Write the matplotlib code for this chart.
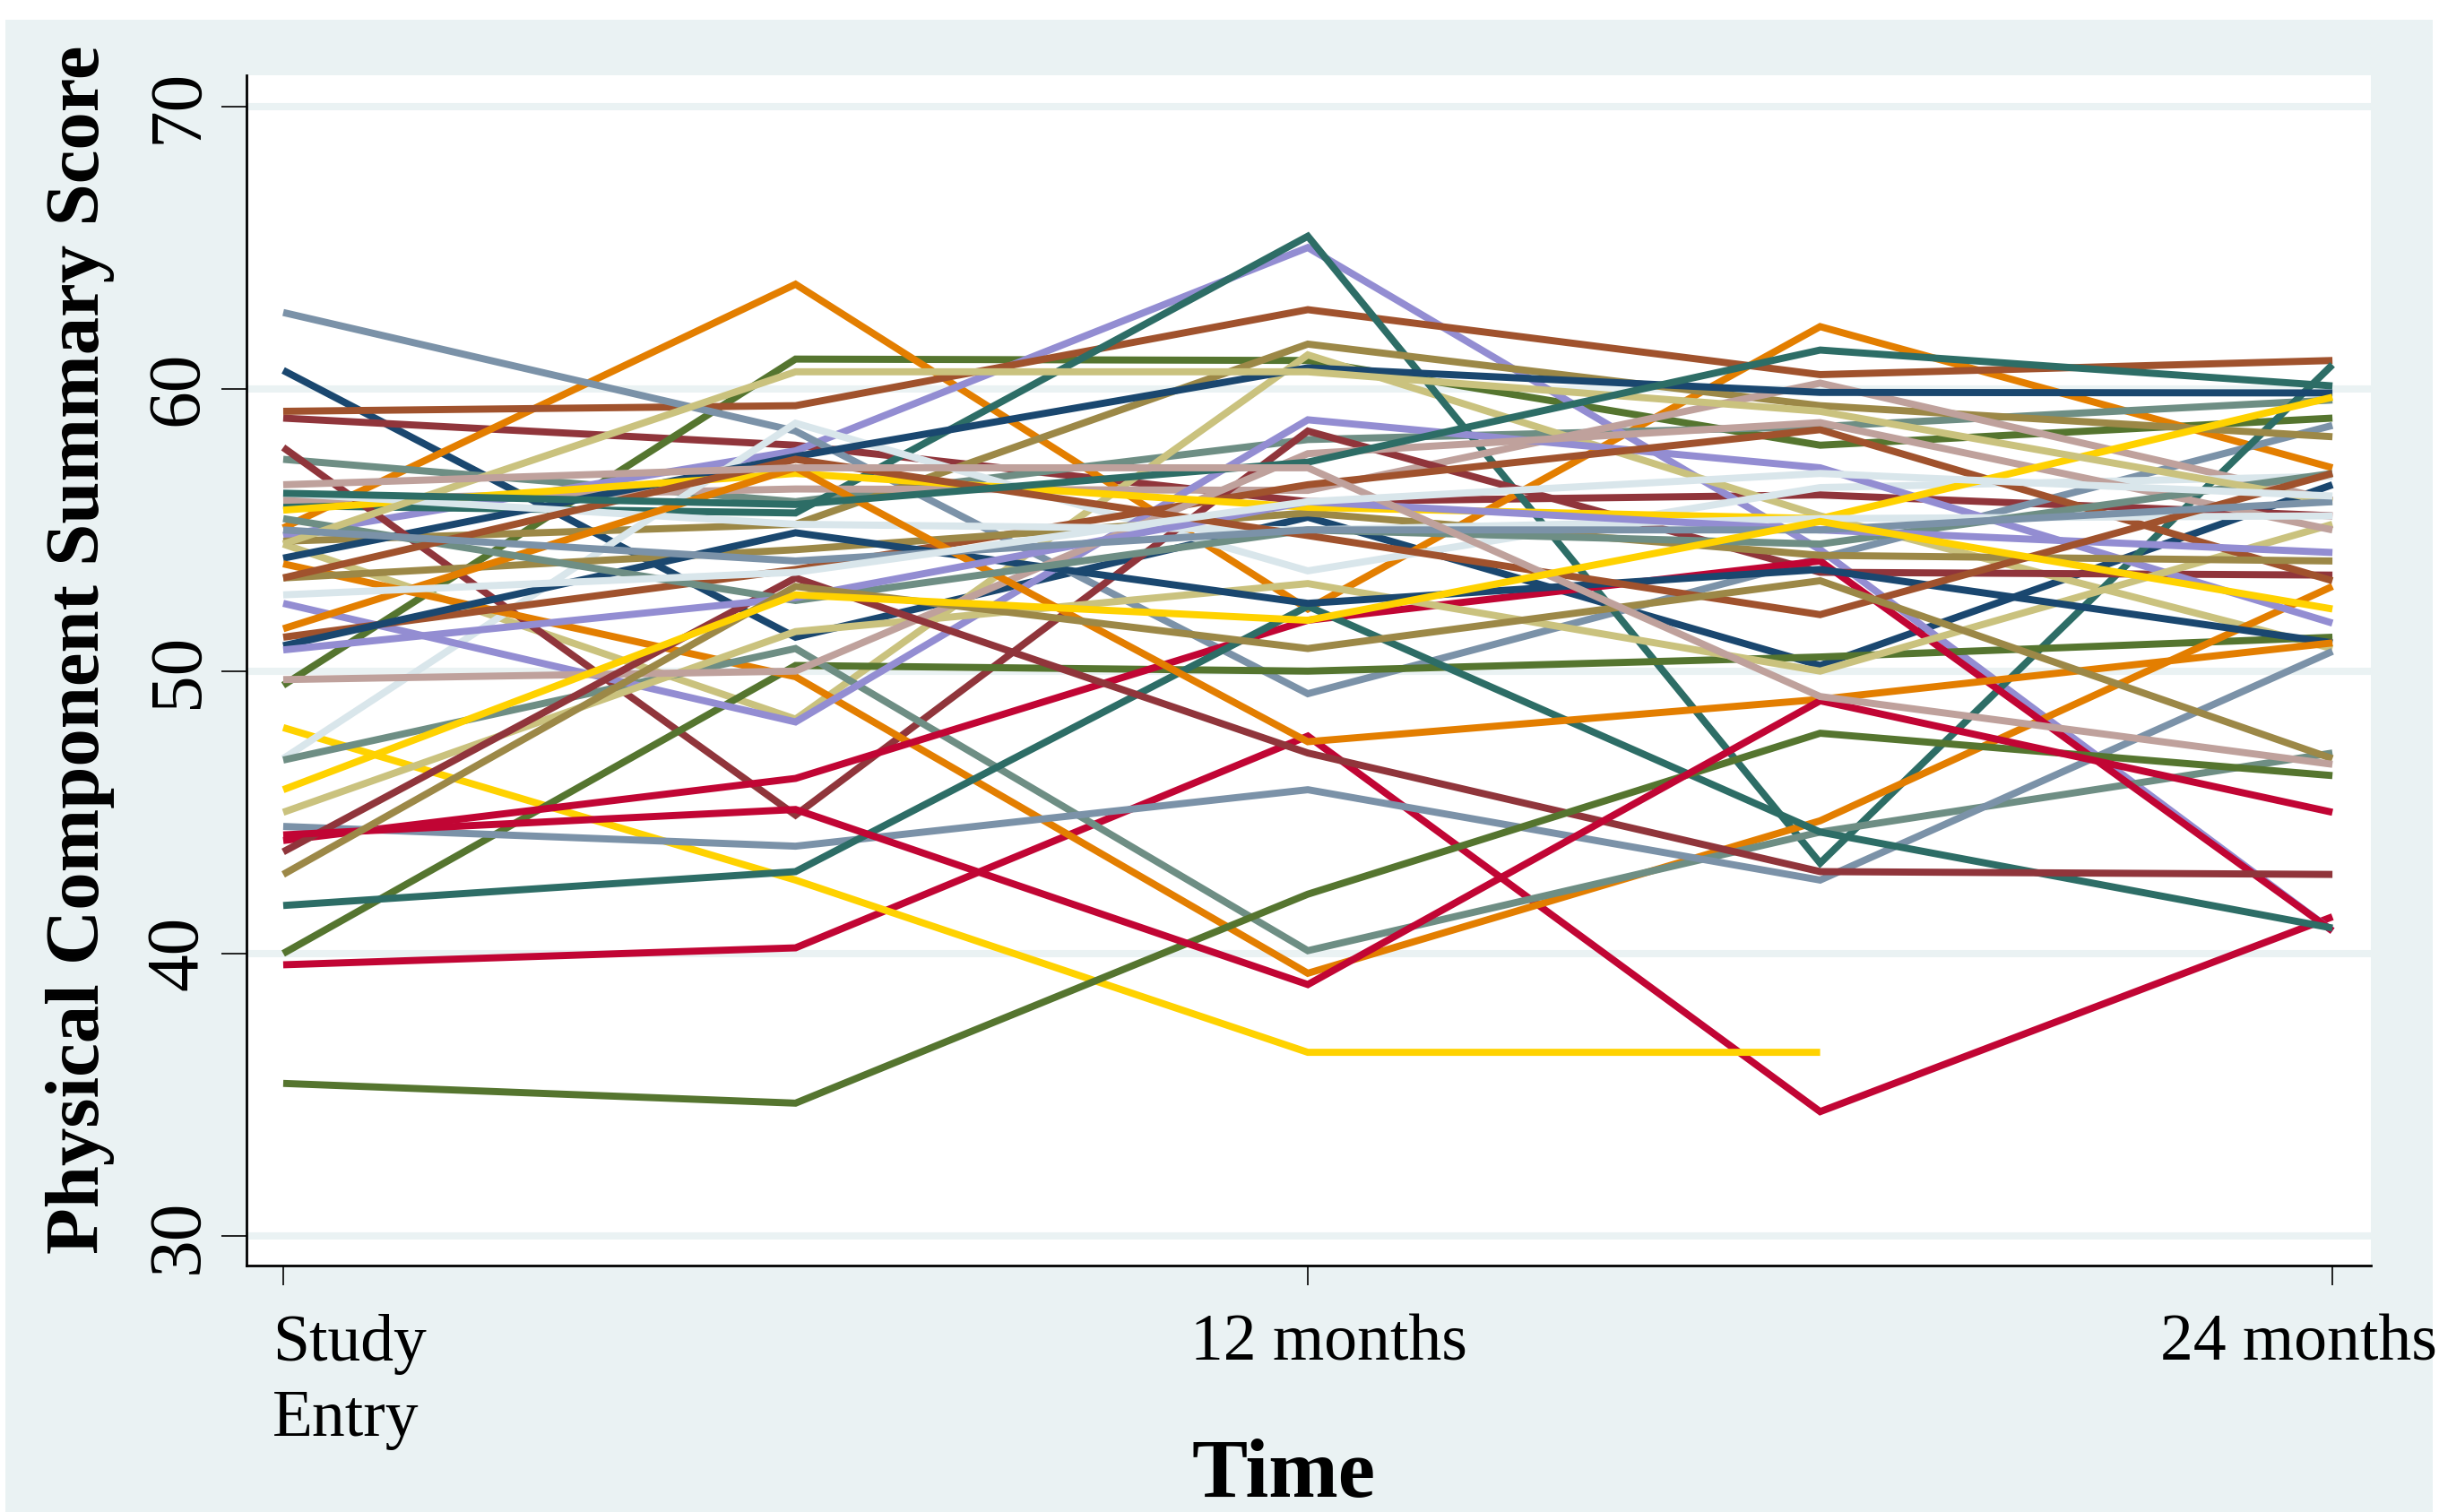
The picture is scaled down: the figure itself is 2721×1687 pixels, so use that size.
import numpy as np
import matplotlib
matplotlib.use("Agg")
import matplotlib.pyplot as plt
from matplotlib.patches import Rectangle
from matplotlib.transforms import ScaledTranslation

plt.rcParams['font.family'] = ['Liberation Serif', 'DejaVu Serif']

# Time points (months since study entry)
months = [0, 6, 12, 18, 24]
tick_months = [0, 12, 24]
tick_labels = ["Study\nEntry", "12 months", "24 months"]
y_ticks = [30, 40, 50, 60, 70]

# Stata s2color line cycle
palette = ["#1a476f", "#90353b", "#55752f", "#e37e00", "#6e8e84",
           "#c10534", "#938dd2", "#cac27e", "#a0522d", "#7b92a8",
           "#2d6d66", "#9c8847", "#bfa19c", "#ffd200", "#d9e6eb"]

nan = np.nan

# PCS per subject, subjects 1-15
pcs_first = [
    [60.65, 51.2, 55.45, 50.2, 56.6],
    [58.96, 58.0, 56.0, 56.24, 55.5],
    [49.5, 61.05, 61.0, 58.0, 58.96],
    [55.07, 63.7, 52.2, 62.2, 57.2],
    [57.5, 56.0, 58.2, 58.66, 59.6],
    [39.6, 40.2, 47.7, 34.4, 41.3],
    [54.8, 57.8, 65.0, 54.3, 40.8],
    [54.5, 48.3, 61.2, 55.5, 50.8],
    [59.2, 59.4, 62.8, 60.5, 61.0],
    [62.7, 58.5, 49.2, 54.0, 58.7],
    [55.86, 55.6, 65.4, 43.2, 60.85],
    [54.6, 55.2, 61.58, 59.4, 58.3],
    [56.05, 56.45, 56.4, 60.2, 56.05],
    [48.0, 42.6, 36.5, 36.5, nan],
    [46.9, 58.78, 53.55, 56.5, 56.9],
]

# subjects 16-30
pcs_second = [
    [54.0, 57.6, 60.74, 59.87, 59.85],
    [57.92, 44.9, 58.5, 53.5, 53.4],
    [40.0, 50.2, 50.0, 50.5, 51.2],
    [53.8, 49.8, 39.3, 44.7, 53.0],
    [46.85, 50.8, 40.1, 44.3, 47.1],
    [44.0, 46.2, 51.8, 53.9, 40.8],
    [52.4, 48.2, 58.9, 57.2, 51.7],
    [45.0, 51.4, 53.1, 50.0, 55.2],
    [51.2, 53.6, 56.6, 58.55, 53.2],
    [44.5, 43.8, 45.8, 42.6, 50.7],
    [41.7, 42.9, 52.3, 44.3, 40.9],
    [53.3, 54.3, 55.6, 54.1, 53.9],
    [49.7, 50.0, 57.7, 58.8, 55.0],
    [55.7, 57.0, 55.8, 55.4, 59.7],
    [56.3, 55.2, 55.0, 55.4, 55.5],
]

# subjects 31-45
pcs_third = [
    [50.9, 54.9, 52.4, 53.6, 51.0],
    [43.6, 53.3, 47.1, 42.9, 42.8],
    [35.4, 34.7, 42.1, 47.8, 46.3],
    [51.5, 57.2, 47.5, 49.0, 51.0],
    [55.4, 52.5, 55.0, 54.5, 57.0],
    [44.2, 45.1, 38.9, 48.95, 45.0],
    [50.75, 52.6, 56.0, 55.0, 54.2],
    [54.5, 60.6, 60.6, 59.2, 56.0],
    [53.3, 57.5, 54.8, 52.0, 57.0],
    [55.0, 53.9, 55.0, 55.0, 56.0],
    [56.3, 55.9, 57.4, 61.37, 60.1],
    [42.8, 53.0, 50.8, 53.2, 46.9],
    [56.6, 57.2, 57.2, 49.1, 46.7],
    [45.8, 52.7, 51.8, 55.3, 52.2],
    [52.7, 53.5, 56.0, 57.0, 56.2],
]

W, H = 2721, 1687
fig = plt.figure(figsize=(W / 100, H / 100), dpi=100, facecolor="white")
# light graph region behind everything
fig.patches.append(Rectangle((6 / W, 0), 2708 / W, 1 - 22 / H, transform=fig.transFigure,
                             facecolor="#eaf2f3", edgecolor="none", zorder=-10))

ax = fig.add_axes([275 / W, 1 - 1412 / H, (2645 - 275) / W, (1412 - 84) / H])
ax.set_facecolor("white")

subjects = pcs_first + pcs_second + pcs_third
for i, row in enumerate(subjects):
    ax.plot(months, row, color=palette[i % len(palette)], lw=5.7,
            solid_capstyle="butt", solid_joinstyle="miter", zorder=3)

ax.set_xlim(-0.43, 24.45)
ax.set_ylim(28.95, 71.1)

ax.set_yticks(y_ticks)
ax.yaxis.grid(True, color="#eaf2f3", lw=5.8)
ax.xaxis.grid(False)
ax.set_axisbelow(True)

for side in ["top", "right"]:
    ax.spines[side].set_visible(False)
for side in ["left", "bottom"]:
    ax.spines[side].set_linewidth(2)
    ax.spines[side].set_color("black")

ax.tick_params(axis="y", length=20, width=1.2, pad=7, labelsize=60, labelrotation=90)
for lab in ax.get_yticklabels():
    lab.set_va("center")

ax.set_xticks(tick_months, tick_labels)
ax.tick_params(axis="x", length=16, width=1.2, pad=23, labelsize=53)

# nudge the x tick labels like the original
xlabs = ax.get_xticklabels()
shifts = [-12, 23, -38]  # pixels
aligns = ["left", "center", "center"]
for lab, dx, a in zip(xlabs, shifts, aligns):
    lab.set_ha(a)
    lab.set_multialignment("left")
    lab.set_linespacing(1.32)
    lab.set_transform(lab.get_transform() + ScaledTranslation(dx / 100, 0, fig.dpi_scale_trans))

fig.text(90 / W, 1 - 725 / H, "Physical Component Summary Score", rotation=90,
         ha="center", va="center", fontsize=61, fontweight="bold")
fig.text(1432 / W, 1 - 1670 / H, "Time", ha="center", va="baseline",
         fontsize=67, fontweight="bold")

fig.savefig("out.png", dpi=100, facecolor=fig.get_facecolor())
